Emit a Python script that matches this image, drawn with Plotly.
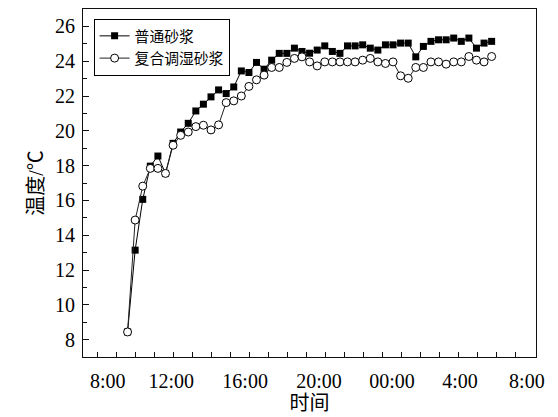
import plotly.graph_objects as go

# sample number (measurement points, equally spaced in time)
sample_no = list(range(49))

ordinary_mortar = [8.44, 13.14, 16.06, 17.97, 18.55, 17.55, 19.28, 19.93, 20.43, 21.14,
                   21.53, 21.95, 22.35, 22.14, 22.52, 23.44, 23.35, 23.93, 23.54, 24.06,
                   24.45, 24.45, 24.75, 24.56, 24.46, 24.64, 24.88, 24.56, 24.45, 24.88,
                   24.88, 24.94, 24.75, 24.64, 24.94, 24.94, 25.04, 25.04, 24.25, 24.85,
                   25.14, 25.23, 25.23, 25.33, 25.14, 25.33, 24.75, 25.04, 25.14]

humidity_mortar = [8.44, 14.87, 16.82, 17.84, 17.84, 17.55, 19.17, 19.74, 19.93, 20.24,
                   20.32, 20.05, 20.34, 21.62, 21.72, 22.00, 22.55, 22.93, 23.20, 23.64,
                   23.64, 23.93, 24.16, 24.25, 23.96, 23.73, 23.96, 23.96, 23.96, 23.96,
                   23.96, 24.06, 24.16, 23.96, 23.87, 23.96, 23.16, 23.02, 23.64, 23.64,
                   23.96, 23.96, 23.83, 23.96, 23.96, 24.27, 24.06, 23.96, 24.27]

series_names = ["普通砂浆", "复合调湿砂浆"]
time_labels = ["8:00", "12:00", "16:00", "20:00", "00:00", "4:00", "8:00"]
label_pos = [-2.62, 5.76, 15.5, 25.25, 34.87, 43.83, 52.65]

x_range = [-5.876, 53.85]
serif = "Liberation Serif, Noto Sans CJK SC"

fig = go.Figure()
fig.add_trace(go.Scatter(
    x=sample_no, y=ordinary_mortar, name=series_names[0], mode="lines+markers",
    line=dict(color="black", width=1),
    marker=dict(symbol="square", size=7, color="black"),
))
fig.add_trace(go.Scatter(
    x=sample_no, y=humidity_mortar, name=series_names[1], mode="lines+markers",
    line=dict(color="#222", width=1),
    marker=dict(symbol="circle", size=8, color="white", line=dict(color="black", width=1)),
))
# carrier for the tick-mark axis
fig.add_trace(go.Scatter(x=[sample_no[0]], y=[ordinary_mortar[0]], xaxis="x2",
                         mode="markers", marker=dict(opacity=0), showlegend=False,
                         hoverinfo="skip"))

fig.update_layout(
    width=558, height=417,
    margin=dict(l=83, r=22, t=9, b=60, autoexpand=False),
    paper_bgcolor="white", plot_bgcolor="white",
    font=dict(family=serif, color="black"),
    showlegend=True,
    legend=dict(x=0.0234, y=0.972, xanchor="left", yanchor="top",
                bordercolor="black", borderwidth=1, bgcolor="white",
                font=dict(size=14.8, family=serif), tracegroupgap=0,
                itemwidth=30),
    xaxis=dict(range=x_range, tickmode="array", tickvals=label_pos, ticktext=time_labels,
               ticks="", showgrid=False, zeroline=False, automargin=False,
               showline=True, mirror=True, linecolor="#111", linewidth=1.2,
               tickfont=dict(size=20, family=serif), ticklabelstandoff=6,
               title=dict(text="时间", font=dict(size=20, family=serif), standoff=2)),
    xaxis2=dict(range=x_range, overlaying="x", anchor="y", side="bottom",
                tickmode="linear", tick0=-4.03, dtick=2.511, automargin=False,
                ticks="inside", ticklen=5, tickcolor="#111", tickwidth=1,
                showticklabels=False, showgrid=False, zeroline=False, showline=False),
    yaxis=dict(range=[7, 27], tickmode="linear", tick0=0, dtick=2, automargin=False,
               ticks="inside", ticklen=6, tickcolor="#111", tickwidth=1,
               minor=dict(dtick=1, tick0=0, ticks="inside", ticklen=4, tickcolor="#111"),
               showgrid=False, zeroline=False,
               showline=True, mirror=True, linecolor="#111", linewidth=1.2,
               tickfont=dict(size=20, family=serif), ticklabelstandoff=3,
               title=dict(text="温度/℃", font=dict(size=20, family=serif), standoff=5)),
)

fig.write_html("out.html", config={"displayModeBar": False},
               post_script="document.body.style.margin='0';document.body.style.overflow='hidden';")
